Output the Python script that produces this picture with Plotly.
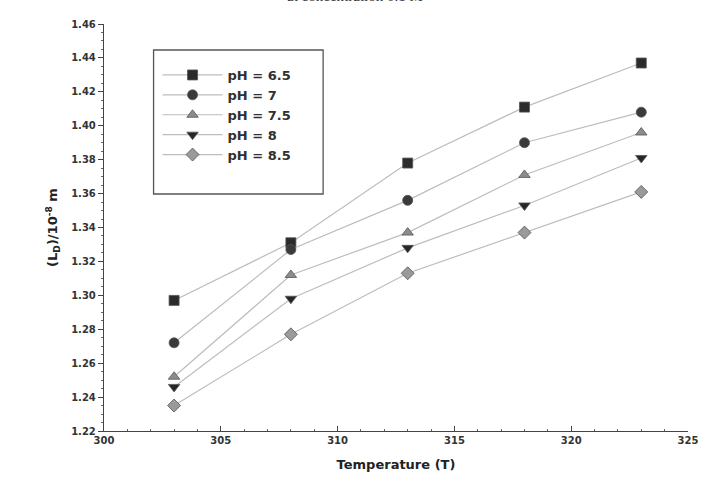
import plotly.graph_objects as go

temperature = [303, 308, 313, 318, 323]
series_names = ["pH = 6.5", "pH = 7", "pH = 7.5", "pH = 8", "pH = 8.5"]
ph_6_5 = [1.297, 1.331, 1.378, 1.411, 1.437]
ph_7 = [1.272, 1.327, 1.356, 1.390, 1.408]
ph_7_5 = [1.252, 1.312, 1.337, 1.371, 1.396]
ph_8 = [1.246, 1.298, 1.328, 1.353, 1.381]
ph_8_5 = [1.235, 1.277, 1.313, 1.337, 1.361]
x_ticks = [300, 305, 310, 315, 320, 325]
y_ticks = [1.22, 1.24, 1.26, 1.28, 1.30, 1.32, 1.34, 1.36, 1.38, 1.40, 1.42, 1.44, 1.46]

values = [ph_6_5, ph_7, ph_7_5, ph_8, ph_8_5]
symbols = ["square", "circle", "triangle-up", "triangle-down", "diamond"]
colors = ["#2b2b2b", "#3a3a3a", "#8c8c8c", "#262626", "#9a9a9a"]

W, H = 710, 492
ml, mr, mt, mb = 104, 17, 24, 61
pw, ph = W - ml - mr, H - mt - mb

def px(xp):
    return (xp - ml) / pw

def py(yp):
    return (H - mb - yp) / ph

fig = go.Figure()
for name, vals, sym, col in zip(series_names, values, symbols, colors):
    fig.add_trace(go.Scatter(
        x=temperature, y=vals, name=name, mode="lines+markers",
        line=dict(color="#bdbdbd", width=1.2),
        marker=dict(symbol=sym, size=10, color=col,
                    line=dict(color="#555555", width=0.8)),
    ))

font_main = "DejaVu Sans"
fig.update_layout(
    width=W, height=H,
    margin=dict(l=ml, r=mr, t=mt, b=mb),
    paper_bgcolor="white", plot_bgcolor="white",
    font=dict(family=font_main, color="#2a2a2a"),
    showlegend=True,
    legend=dict(
        x=px(158), y=py(60), xanchor="left", yanchor="top",
        bgcolor="rgba(0,0,0,0)", borderwidth=0,
        font=dict(family=font_main, size=13, color="#303030", weight="bold"),
        itemwidth=60, tracegroupgap=0,
    ),
    xaxis=dict(
        range=[300, 325], tickvals=x_ticks,
        ticktext=[str(v) for v in x_ticks],
        showgrid=False, zeroline=False, showline=True,
        linecolor="#444444", linewidth=1.3,
        ticks="inside", ticklen=5, tickcolor="#444444",
        minor=dict(dtick=1, ticks="inside", ticklen=2, tickcolor="#666666"),
        tickfont=dict(family=font_main, size=10, color="#333333", weight="bold"),
        title=dict(text="Temperature (T)", standoff=14,
                   font=dict(family=font_main, size=13, color="#222222", weight="bold")),
    ),
    yaxis=dict(
        range=[1.22, 1.46], tickvals=y_ticks,
        ticktext=[f"{v:.2f}" for v in y_ticks],
        showgrid=False, zeroline=False, showline=True,
        linecolor="#444444", linewidth=1.3,
        ticks="outside", ticklen=5, tickcolor="#444444",
        minor=dict(dtick=0.005, ticks="outside", ticklen=2, tickcolor="#666666"),
        tickfont=dict(family=font_main, size=10, color="#333333", weight="bold"),
        title=dict(text="(L<sub>D</sub>)/10<sup>-8</sup> m", standoff=10,
                   font=dict(family=font_main, size=13, color="#222222", weight="bold")),
    ),
)

fig.add_shape(type="rect", xref="paper", yref="paper",
              x0=px(154), x1=px(325), y0=py(194), y1=py(50),
              line=dict(color="#555555", width=1.3), fillcolor="rgba(0,0,0,0)")

fig.add_annotation(text="at concentration 0.1 M", xref="paper", yref="paper",
                   x=px(357), y=py(-4), xanchor="center", yanchor="middle",
                   showarrow=False,
                   font=dict(family="Liberation Serif", size=15, color="#333333"))

fig.write_html("out.html")
